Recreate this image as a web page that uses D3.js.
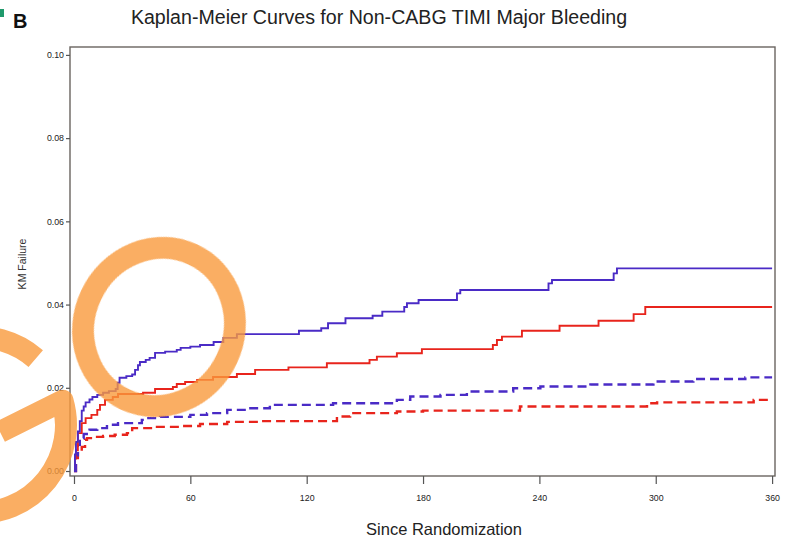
<!DOCTYPE html>
<html>
<head>
<meta charset="utf-8">
<script src="https://cdn.jsdelivr.net/npm/d3@7"></script>
<style>
  html, body { margin: 0; padding: 0; background: #fff; }
  svg { display: block; }
</style>
</head>
<body>
<svg id="chart" width="792" height="538"></svg>
<script>
// Kaplan-Meier cumulative failure estimates: [day, failure] pairs (step after)
const blueSolid = [[0,0],[0.5,0.004],[1,0.007],[2,0.0095],[3,0.012],[4,0.0145],[5,0.0155],[6,0.0165],[8,0.0172],[9.5,0.0178],[12,0.0183],[15,0.0188],[18,0.0192],[21.5,0.0197],[22.5,0.0212],[23.5,0.0224],[27,0.0228],[30,0.0232],[31.5,0.0243],[33,0.0254],[34,0.0262],[37,0.0267],[39,0.0272],[41.8,0.0284],[47,0.0287],[53,0.0291],[55,0.0296],[60,0.0299],[65,0.0303],[72,0.031],[77,0.032],[84,0.0329],[116,0.0337],[127.5,0.0343],[131,0.0355],[140,0.0367],[154,0.0373],[159,0.0383],[170.3,0.0394],[171.7,0.0403],[177.7,0.0411],[197.5,0.0427],[199.2,0.0435],[244.7,0.0451],[246.5,0.0459],[278.3,0.0475],[280,0.0487],[360,0.0487]];
const redSolid = [[0,0],[0.5,0.003],[1,0.005],[2,0.0091],[4,0.0115],[6,0.0127],[9,0.0135],[12,0.0147],[13.4,0.0159],[16,0.0171],[20,0.0178],[22.7,0.0185],[35.6,0.0188],[41.8,0.0197],[51,0.0202],[53,0.0209],[57.3,0.0214],[63.5,0.0219],[71.7,0.0226],[84,0.0233],[93.4,0.0243],[110.6,0.0249],[130.4,0.0259],[152.4,0.0267],[156.2,0.0275],[166.5,0.0283],[179.4,0.0293],[216,0.0303],[218.1,0.0315],[220.7,0.0323],[231,0.0337],[250.4,0.0349],[270.5,0.0361],[288.6,0.0377],[294.6,0.0394],[360,0.0394]];
const blueDashed = [[0,0],[1,0.0038],[2,0.0063],[3,0.0079],[5,0.0089],[8,0.0099],[12,0.0103],[17,0.0111],[22.7,0.0115],[35,0.0123],[37.7,0.0127],[44.4,0.013],[60,0.0135],[68.6,0.0139],[79,0.0147],[89.3,0.0151],[101,0.0159],[133.6,0.0163],[166.5,0.0171],[173.4,0.0179],[189,0.0183],[202.6,0.0191],[226.5,0.0199],[240.5,0.0203],[266.3,0.0208],[298.8,0.0215],[319.4,0.0221],[346.2,0.0225],[360,0.0225]];
const redDashed = [[0,0],[1,0.0031],[2,0.0043],[4,0.0058],[5.7,0.0075],[6.7,0.0079],[9.8,0.0082],[15,0.0084],[21,0.0087],[27.3,0.0091],[30,0.0103],[42.8,0.0106],[54.7,0.0108],[65,0.0113],[79,0.0118],[96,0.012],[135.6,0.0131],[142.4,0.0139],[166.5,0.0143],[180,0.0145],[230,0.0155],[295.5,0.0163],[300.7,0.0165],[350.5,0.0171],[360,0.0171]];

const xTicks = [0, 60, 120, 180, 240, 300, 360];
const yTicks = [0, 0.02, 0.04, 0.06, 0.08, 0.10];

const titleText = "Kaplan-Meier Curves for Non-CABG TIMI Major Bleeding";
const panelLabel = "B";
const xLabel = "Since Randomization";
const yLabel = "KM Failure";

const svg = d3.select("#chart");
const font = "'Liberation Sans', Arial, Helvetica, sans-serif";

// frame edges
const frameL = 70, frameR = 775, frameT = 47, frameB = 476;

const x = d3.scaleLinear().domain([-2.06, 361.5]).range([frameL, frameR]);
const y = d3.scaleLinear().domain([-0.0012, 0.1019]).range([frameB, frameT]);

// panel marker and letter
svg.append("rect").attr("x", 0).attr("y", 9).attr("width", 4).attr("height", 8).attr("fill", "#1f9a6c");
svg.append("text").attr("x", 13).attr("y", 28).attr("font-family", font).attr("font-weight", "bold")
  .attr("font-size", 20).attr("fill", "#111").text(panelLabel);

// title
svg.append("text").attr("x", 379).attr("y", 24).attr("text-anchor", "middle")
  .attr("font-family", font).attr("font-size", 19.6).attr("fill", "#222").text(titleText);

// plot frame
svg.append("rect").attr("x", frameL).attr("y", frameT).attr("width", frameR - frameL).attr("height", frameB - frameT)
  .attr("fill", "none").attr("stroke", "#6a6460").attr("stroke-width", 1.4);

// axes
const yAxis = d3.axisLeft(y).tickValues(yTicks).tickFormat(d3.format(".2f")).tickSize(4).tickPadding(2);
const gy = svg.append("g").attr("transform", `translate(${frameL},0)`).call(yAxis);
const xAxis = d3.axisBottom(x).tickValues(xTicks).tickFormat(d3.format("d")).tickSize(8).tickPadding(11);
const gx = svg.append("g").attr("transform", `translate(0,${frameB})`).call(xAxis);
[gx, gy].forEach(g => {
  g.select(".domain").remove();
  g.selectAll(".tick line").attr("stroke", "#555").attr("stroke-width", 1.2);
  g.selectAll(".tick text").attr("font-family", font).attr("font-size", 8.8).attr("fill", "#222");
});

// axis titles
svg.append("text").attr("x", 444).attr("y", 535).attr("text-anchor", "middle")
  .attr("font-family", font).attr("font-size", 16.5).attr("fill", "#222").text(xLabel);
svg.append("text").attr("transform", "translate(26,264) rotate(-90)").attr("text-anchor", "middle")
  .attr("font-family", font).attr("font-size", 10.5).attr("fill", "#333").text(yLabel);

// KM curves
const line = d3.line().x(d => x(d[0])).y(d => y(d[1])).curve(d3.curveStepAfter);
const series = [
  { data: redDashed, color: "#e8241c", dash: "9,5", width: 2.4 },
  { data: blueDashed, color: "#4a2bc6", dash: "9,5", width: 2.4 },
  { data: redSolid, color: "#e8241c", dash: null, width: 1.9 },
  { data: blueSolid, color: "#4a2bc6", dash: null, width: 1.9 }
];
svg.append("g").selectAll("path").data(series).join("path")
  .attr("d", d => line(d.data))
  .attr("fill", "none")
  .attr("stroke", d => d.color)
  .attr("stroke-width", d => d.width)
  .attr("stroke-dasharray", d => d.dash);

// orange watermark strokes over the plot
const mark = svg.append("g").attr("fill", "none").attr("stroke", "#f99a3c")
  .attr("stroke-width", 22).attr("opacity", 0.8);
mark.append("ellipse").attr("cx", 159).attr("cy", 327).attr("rx", 75).attr("ry", 80)
  .attr("transform", "rotate(25,159,327)");
const gc = [-22, 425], gr = 88;
const arc = d3.path();
arc.arc(gc[0], gc[1], gr, -49 * Math.PI / 180, -376 * Math.PI / 180, true);
arc.lineTo(0, 432);
mark.append("path").attr("d", arc.toString()).attr("stroke-linejoin", "round");
</script>
</body>
</html>
